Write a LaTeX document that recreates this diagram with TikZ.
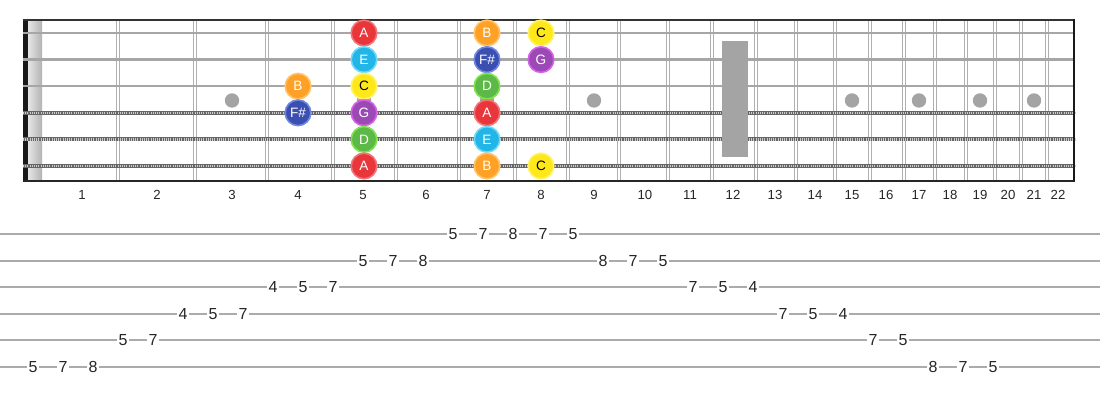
\documentclass[tikz,border=0pt]{standalone}
\usepackage{fontspec}
\setmainfont{Liberation Sans}

\definecolor{fretgray}{HTML}{B0B0B0}
\definecolor{inlaygray}{HTML}{A4A4A4}
\definecolor{tabgray}{HTML}{ABABAB}
\definecolor{colA}{HTML}{E8363B}  \definecolor{ringA}{HTML}{F27478}
\definecolor{colB}{HTML}{FFA126}  \definecolor{ringB}{HTML}{FFC468}
\definecolor{colC}{HTML}{FFE81A}  \definecolor{ringC}{HTML}{FFF36A}
\definecolor{colD}{HTML}{5CB847}  \definecolor{ringD}{HTML}{7FE34C}
\definecolor{colE}{HTML}{21B5E8}  \definecolor{ringE}{HTML}{74D9F8}
\definecolor{colF}{HTML}{3A4FB0}  \definecolor{ringF}{HTML}{6F86E2}
\definecolor{colG}{HTML}{9B4AB5}  \definecolor{ringG}{HTML}{D95EEA}

\tikzset{
    fretline/.style={fretgray, line width=0.7pt},
    inlay/.style={fill=inlaygray},
    plainstring/.style={line width=1.2pt, black!35},
    woundbase/.style={line width=2pt, black!60},
    woundtop/.style={line width=1.2pt, white!80!black, dash pattern=on 0.55pt off 0.55pt},
    note/.style={circle, minimum size=12.8pt, inner sep=0pt, line width=0.8pt,
        text=white, font=\fontsize{6.8}{7}\selectfont},
    noteA/.style={note, fill=colA, draw=ringA},
    noteB/.style={note, fill=colB, draw=ringB},
    noteC/.style={note, fill=colC, draw=ringC, text=black},
    noteD/.style={note, fill=colD, draw=ringD},
    noteE/.style={note, fill=colE, draw=ringE},
    noteF/.style={note, fill=colF, draw=ringF},
    noteG/.style={note, fill=colG, draw=ringG},
    fretnum/.style={font=\fontsize{6.6}{7}\selectfont, text=black!85},
    tabnum/.style={fill=white, inner sep=1pt, font=\fontsize{8}{8}\selectfont, text=black!85},
}

\begin{document}
\begin{tikzpicture}[x=0.5pt,y=-0.5pt]
    \useasboundingbox (0,0) rectangle (1100,400);

    % nut
    \fill[black!90] (23,20) rectangle (28,181);
    \fill[left color=black!10, right color=black!30] (28,20) rectangle (42,181);

    % frets
    \foreach \x in {118,195,267,333,396,459,515,568,619,668,712,756,796,835,870,904,935,966,995,1021,1047} {
        \draw[fretline] (\x-1.6,20) -- (\x-1.6,181);
        \draw[fretline] (\x+1.6,20) -- (\x+1.6,181);
    }

    % strings
    \foreach \s in {1,2,3}
        \draw[plainstring] (23,{33+26.6*(\s-1)}) -- (1075,{33+26.6*(\s-1)});
    \foreach \s in {4,5,6} {
        \draw[woundbase] (23,{33+26.6*(\s-1)}) -- (1075,{33+26.6*(\s-1)});
        \draw[woundtop] (23,{33+26.6*(\s-1)}) -- (1075,{33+26.6*(\s-1)});
    }

    % inlays
    \foreach \x in {232,364,487,594,852,919,980,1034}
        \fill[inlay] (\x,100.5) circle (3.6pt);
    \fill[inlay] (722,41) rectangle (748,157);

    % frame
    \draw[black!80, line width=0.8pt] (23,20) -- (1074,20);
    \draw[black!85, line width=1pt] (23,181) -- (1075,181);
    \draw[black!90, line width=1.4pt] (1074,19.5) -- (1074,181.5);

    % fret numbers
    \foreach \x [count=\n] in {82,157,232,298,363,426,487,541,594,645,690,733,775,815,852,886,919,950,980,1008,1034,1058}
        \node[fretnum] (fn\n) at (\x,195) {\n};

    % notes
    \node[noteA] (n1f5) at (364,33) {A};
    \node[noteB] (n1f7) at (487,33) {B};
    \node[noteC] (n1f8) at (541,33) {C};
    \node[noteE] (n2f5) at (364,59.6) {E};
    \node[noteF] (n2f7) at (487,59.6) {F\#};
    \node[noteG] (n2f8) at (541,59.6) {G};
    \node[noteB] (n3f4) at (298,86.2) {B};
    \node[noteC] (n3f5) at (364,86.2) {C};
    \node[noteD] (n3f7) at (487,86.2) {D};
    \node[noteF] (n4f4) at (298,112.8) {F\#};
    \node[noteG] (n4f5) at (364,112.8) {G};
    \node[noteA] (n4f7) at (487,112.8) {A};
    \node[noteD] (n5f5) at (364,139.4) {D};
    \node[noteE] (n5f7) at (487,139.4) {E};
    \node[noteA] (n6f5) at (364,166) {A};
    \node[noteB] (n6f7) at (487,166) {B};
    \node[noteC] (n6f8) at (541,166) {C};

    % tab
    \foreach \k in {1,...,6}
        \draw[tabgray, line width=1pt] (0,{234+26.6*(\k-1)}) -- (1100,{234+26.6*(\k-1)});
    \foreach \x/\k/\d [count=\i] in {453/1/5,483/1/7,513/1/8,543/1/7,573/1/5,
            363/2/5,393/2/7,423/2/8,603/2/8,633/2/7,663/2/5,
            273/3/4,303/3/5,333/3/7,693/3/7,723/3/5,753/3/4,
            183/4/4,213/4/5,243/4/7,783/4/7,813/4/5,843/4/4,
            123/5/5,153/5/7,873/5/7,903/5/5,
            33/6/5,63/6/7,93/6/8,933/6/8,963/6/7,993/6/5}
        \node[tabnum] (t\i) at (\x,{234+26.6*(\k-1)}) {\d};

\end{tikzpicture}
\end{document}
